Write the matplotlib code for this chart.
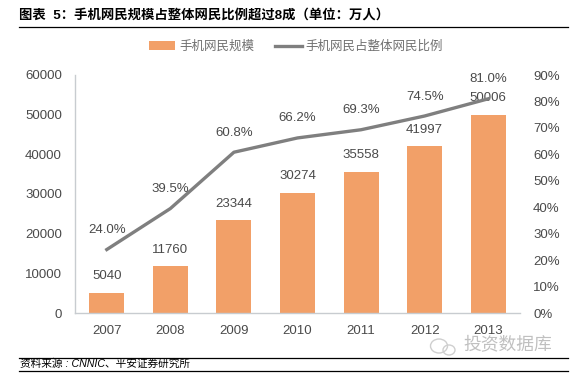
import matplotlib
matplotlib.use("Agg")
import matplotlib.pyplot as plt
from matplotlib.patches import Ellipse
from matplotlib.transforms import IdentityTransform

plt.rcParams['font.family'] = ['Liberation Sans', 'Noto Sans CJK SC', 'DejaVu Sans']

years = ["2007", "2008", "2009", "2010", "2011", "2012", "2013"]
users = [5040, 11760, 23344, 30274, 35558, 41997, 50006]
share = [24.0, 39.5, 60.8, 66.2, 69.3, 74.5, 81.0]
left_ticks = [0, 10000, 20000, 30000, 40000, 50000, 60000]
right_ticks = [0, 10, 20, 30, 40, 50, 60, 70, 80, 90]

W, H = 582, 381
BAR = "#f2a068"
LINE = "#7f7f7f"
TXT = "#4a4a4a"

fig = plt.figure(figsize=(W / 100, H / 100), dpi=100)

# axes box in pixels: x 75-520, y 75-313
ax = fig.add_axes([75 / W, 1 - 313 / H, 445 / W, 238 / H])
x = list(range(len(years)))
ax.bar(x, users, width=0.55, color=BAR, label="手机网民规模")
ax.set_xlim(-0.5, 6.5)
ax.set_ylim(0, 60000)
ax.set_xticks(x)
ax.set_xticklabels(years)
ax.set_yticks(left_ticks)
ax.tick_params(axis="both", length=0, labelsize=9.5, labelcolor=TXT)
ax.tick_params(axis="x", pad=9)
ax.tick_params(axis="y", pad=9.4)
for s in ["top", "right"]:
    ax.spines[s].set_visible(False)
for s in ["left", "bottom"]:
    ax.spines[s].set_color("#c8ccd0")
    ax.spines[s].set_linewidth(1)

for xi, v in zip(x, users):
    ax.annotate(str(v), (xi, v), xytext=(0, 12), textcoords="offset points",
                ha="center", va="center", fontsize=9.5, color=TXT)

ax2 = ax.twinx()
ax2.plot(x, share, color=LINE, linewidth=2.4, label="手机网民占整体网民比例")
ax2.set_ylim(0, 90)
ax2.set_yticks(right_ticks)
ax2.set_yticklabels([f"{t}%" for t in right_ticks])
ax2.tick_params(axis="y", length=0, labelsize=9.5, labelcolor=TXT, pad=9.4)
for s in ax2.spines.values():
    s.set_visible(False)

for xi, v in zip(x, share):
    ax2.annotate(f"{v:.1f}%", (xi, v), xytext=(0, 14), textcoords="offset points",
                 ha="center", va="center", fontsize=9.5, color=TXT)

# legend
h1, l1 = ax.get_legend_handles_labels()
h2, l2 = ax2.get_legend_handles_labels()
fig.legend(h1 + h2, l1 + l2, ncol=2, frameon=False, fontsize=9, labelcolor="#707070",
           loc="center", bbox_to_anchor=(296 / W, 1 - 47 / H),
           handlelength=2.1, handletextpad=0.3, columnspacing=1.7)

# title, rules, source
fig.text(19 / W, 1 - 15 / H, "图表  5：手机网民规模占整体网民比例超过8成（单位：万人）",
         fontsize=9.6, fontweight="bold", color="black", va="center", ha="left")
for yy in [26.5, 357.5, 370.5]:
    fig.add_artist(plt.Line2D([19 / W, 568 / W], [1 - yy / H] * 2, color="black", linewidth=0.9))
fig.text(20 / W, 1 - 364 / H, "资料来源 : CNNIC、平安证券研究所", fontsize=7.7,
         style="italic", color="black", va="center", ha="left")

# watermark
fig.add_artist(Ellipse((439, H - 346), 17, 14, transform=IdentityTransform(),
                       fill=False, edgecolor="#cfcfcf", linewidth=1))
fig.add_artist(Ellipse((449, H - 350), 12, 10, transform=IdentityTransform(),
                       fill=False, edgecolor="#cfcfcf", linewidth=1))
fig.text(463 / W, 1 - 346 / H, "投资数据库", fontsize=12.8, color="#c0c0c0",
         va="center", ha="left")

fig.savefig("out.png", dpi=100)
